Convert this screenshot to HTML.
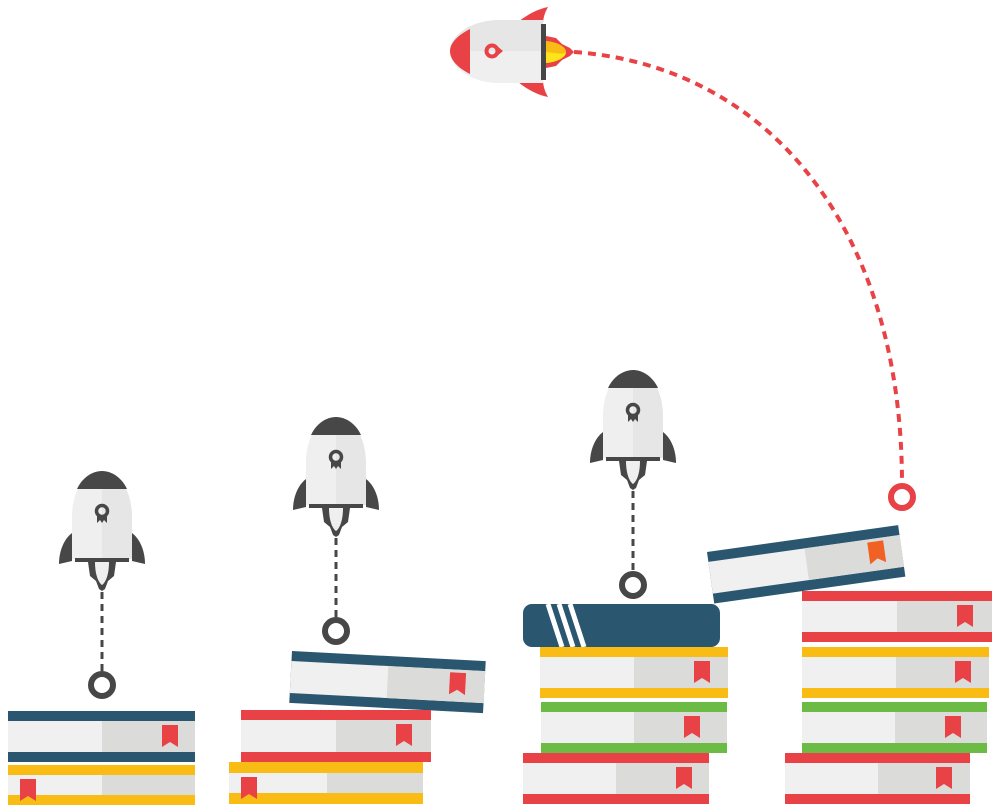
<!DOCTYPE html>
<html><head><meta charset="utf-8"><style>html,body{margin:0;padding:0;background:#fff}svg{display:block}</style></head>
<body>
<svg width="1000" height="812" viewBox="0 0 1000 812" xmlns="http://www.w3.org/2000/svg">
<defs>
<g id="rk">
  <path d="M-43,93 C-43,80 -38,68 -30,62 L-30,90 Z" fill="#474747"/>
  <path d="M43,93 C43,80 38,68 30,62 L30,90 Z" fill="#474747"/>
  <path d="M-30,88 L-30,50 C-31,20 -17,0 0,0 C17,0 31,20 30,50 L30,88 Z" fill="#efefef"/>
  <path d="M0,0 C17,0 31,20 30,50 L30,88 L0,88 Z" fill="#e6e6e6"/>
  <path d="M-25,18 C-20,7 -10,0 0,0 C10,0 20,7 25,18 Z" fill="#474747"/>
  <rect x="-27" y="87" width="54" height="4" fill="#474747"/>
  <path d="M-14,91 L-12,105 L-6,110 L-3,118 L0,120 L3,118 L6,110 L12,105 L14,91 Z" fill="#474747"/>
  <path d="M-7,91 C-7,105 -3,112 0,114 C3,112 7,105 7,91 Z" fill="#efefef"/>
  <circle cx="0" cy="40" r="5.5" fill="none" stroke="#474747" stroke-width="3.5"/>
  <path d="M-5,45 L-5,52 L-2,49 L0,52 L2,49 L5,52 L5,45 Z" fill="#474747"/>
</g>
<path id="bm" d="M0,0 H16 V22 L8,17 L0,22 Z" fill="#e84246"/>
</defs>

<g transform="translate(8,711)">
  <rect width="187" height="51" fill="#2b566f"/>
  <rect y="10" width="187" height="31" fill="#f0f0f0"/>
  <rect x="94" y="10" width="93" height="31" fill="#dbdbd9"/>
  <use href="#bm" x="154" y="14"/>
</g>
<g transform="translate(8,765)">
  <rect width="187" height="40" fill="#f9bc15"/>
  <rect y="10" width="187" height="20" fill="#f0f0f0"/>
  <rect x="94" y="10" width="93" height="20" fill="#dbdbd9"/>
  <use href="#bm" x="12" y="14"/>
</g>

<g transform="translate(292,651) rotate(3)">
  <rect width="194" height="52" fill="#2b566f"/>
  <rect y="10" width="194" height="32" fill="#f0f0f0"/>
  <rect x="97" y="10" width="97" height="32" fill="#dbdbd9"/>
  <use href="#bm" x="159" y="13"/>
</g>
<g transform="translate(241,710)">
  <rect width="190" height="52" fill="#e84246"/>
  <rect y="10" width="190" height="32" fill="#f0f0f0"/>
  <rect x="95" y="10" width="95" height="32" fill="#dbdbd9"/>
  <use href="#bm" x="155" y="14"/>
</g>
<g transform="translate(229,762)">
  <rect width="194" height="42" fill="#f9bc15"/>
  <rect y="11" width="194" height="20" fill="#f0f0f0"/>
  <rect x="98" y="11" width="96" height="20" fill="#dbdbd9"/>
  <use href="#bm" x="12" y="15"/>
</g>

<rect x="523" y="604" width="197" height="43" rx="9" fill="#2b566f"/>
<g stroke="#fff" stroke-width="5">
  <line x1="548" y1="604" x2="562" y2="647"/>
  <line x1="559" y1="604" x2="573" y2="647"/>
  <line x1="570" y1="604" x2="584" y2="647"/>
</g>
<g transform="translate(540,647)">
  <rect width="188" height="51" fill="#f9bc15"/>
  <rect y="10" width="188" height="31" fill="#f0f0f0"/>
  <rect x="94" y="10" width="94" height="31" fill="#dbdbd9"/>
  <use href="#bm" x="154" y="14"/>
</g>
<g transform="translate(541,702)">
  <rect width="186" height="51" fill="#6cbb45"/>
  <rect y="10" width="186" height="31" fill="#f0f0f0"/>
  <rect x="93" y="10" width="93" height="31" fill="#dbdbd9"/>
  <use href="#bm" x="143" y="14"/>
</g>
<g transform="translate(523,753)">
  <rect width="186" height="51" fill="#e84246"/>
  <rect y="10" width="186" height="31" fill="#f0f0f0"/>
  <rect x="93" y="10" width="93" height="31" fill="#dbdbd9"/>
  <use href="#bm" x="153" y="14"/>
</g>

<g transform="translate(707,552) rotate(-8)">
  <rect width="193" height="52" fill="#2b566f"/>
  <rect y="10" width="193" height="32" fill="#f0f0f0"/>
  <rect x="97" y="10" width="96" height="32" fill="#dbdbd9"/>
  <path transform="translate(160,13)" d="M0,0 H16 V22 L8,17 L0,22 Z" fill="#f06123"/>
</g>
<g transform="translate(802,591)">
  <rect width="190" height="51" fill="#e84246"/>
  <rect y="10" width="190" height="31" fill="#f0f0f0"/>
  <rect x="95" y="10" width="95" height="31" fill="#dbdbd9"/>
  <use href="#bm" x="155" y="14"/>
</g>
<g transform="translate(802,647)">
  <rect width="187" height="51" fill="#f9bc15"/>
  <rect y="10" width="187" height="31" fill="#f0f0f0"/>
  <rect x="94" y="10" width="93" height="31" fill="#dbdbd9"/>
  <use href="#bm" x="153" y="14"/>
</g>
<g transform="translate(802,702)">
  <rect width="185" height="51" fill="#6cbb45"/>
  <rect y="10" width="185" height="31" fill="#f0f0f0"/>
  <rect x="93" y="10" width="92" height="31" fill="#dbdbd9"/>
  <use href="#bm" x="143" y="14"/>
</g>
<g transform="translate(785,753)">
  <rect width="185" height="51" fill="#e84246"/>
  <rect y="10" width="185" height="31" fill="#f0f0f0"/>
  <rect x="93" y="10" width="92" height="31" fill="#dbdbd9"/>
  <use href="#bm" x="151" y="14"/>
</g>

<use href="#rk" x="102" y="471"/>
<line x1="102" y1="592" x2="102" y2="672" stroke="#474747" stroke-width="3" stroke-dasharray="7,5"/>
<circle cx="102" cy="685" r="11" fill="none" stroke="#474747" stroke-width="6"/>

<use href="#rk" x="336" y="417"/>
<line x1="336" y1="538" x2="336" y2="618" stroke="#474747" stroke-width="3" stroke-dasharray="7,5"/>
<circle cx="336" cy="631" r="11" fill="none" stroke="#474747" stroke-width="6"/>

<use href="#rk" x="633" y="370"/>
<line x1="633" y1="491" x2="633" y2="572" stroke="#474747" stroke-width="3" stroke-dasharray="7,5"/>
<circle cx="633" cy="585" r="11" fill="none" stroke="#474747" stroke-width="6"/>

<path d="M574,52 C770,66 902,230 902,484" fill="none" stroke="#e84246" stroke-width="4" stroke-dasharray="8,6"/>
<circle cx="902" cy="497" r="11" fill="none" stroke="#e84246" stroke-width="6"/>

<path d="M518,22 C528,14 538,9 548,7 C544,14 543,20 543,24 Z" fill="#e84246"/>
<path d="M518,82 C528,90 538,95 548,97 C544,90 543,84 543,80 Z" fill="#e84246"/>
<path d="M543,20 L500,20 C470,20 450,36 450,51 C450,67 470,83 500,83 L543,83 Z" fill="#efefef"/>
<path d="M543,20 L500,20 C470,20 450,36 450,51 L543,51 Z" fill="#e6e6e6"/>
<path d="M470,29 C458,35 450,43 450,51 C450,60 458,68 470,74 Z" fill="#e84246"/>
<rect x="541" y="24" width="5" height="56" fill="#474747"/>
<path d="M546,36 L556,38 L562,44 L570,48 L574,52 L570,56 L562,60 L556,66 L546,68 Z" fill="#e84246"/>
<path d="M546,41 C558,42 566,47 566,52 C566,57 558,62 546,63 Z" fill="#f9bc15"/>
<path d="M546,52 C556,53 563,55 566,52 C566,57 558,62 546,63 Z" fill="#fde31a"/>
<circle cx="492" cy="51" r="5.5" fill="none" stroke="#e84246" stroke-width="4"/>
<path d="M497,46 L503,51 L497,56 Z" fill="#e84246"/>
</svg>
</body></html>
